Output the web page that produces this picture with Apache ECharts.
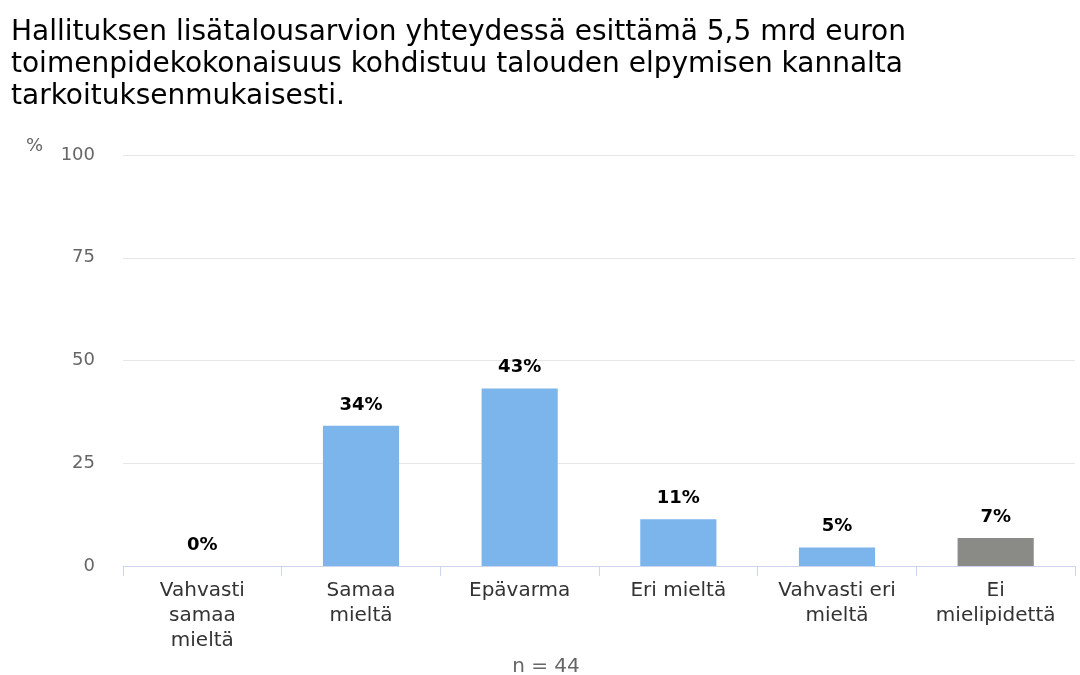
<!DOCTYPE html>
<html><head><meta charset="utf-8">
<script src="https://cdn.jsdelivr.net/npm/echarts@6/dist/echarts.min.js"></script>
<style>html,body{margin:0;padding:0;background:#fff}#main{width:1080px;height:675px}</style>
</head><body><div id="main"></div>
<script>
var categories = ['Vahvasti\nsamaa\nmieltä', 'Samaa\nmieltä', 'Epävarma', 'Eri mieltä', 'Vahvasti eri\nmieltä', 'Ei\nmielipidettä'];
var values = [0, 34.1, 43.2, 11.4, 4.5, 6.8];
var colors = ['#7cb5ec', '#7cb5ec', '#7cb5ec', '#7cb5ec', '#7cb5ec', '#8a8a86'];
var font = 'DejaVu Sans';
var chart = echarts.init(document.getElementById('main'));
chart.setOption({
  backgroundColor: '#fff',
  animation: false,
  textStyle: { fontFamily: font },
  title: [{
    text: 'Hallituksen lisätalousarvion yhteydessä esittämä 5,5 mrd euron\ntoimenpidekokonaisuus kohdistuu talouden elpymisen kannalta\ntarkoituksenmukaisesti.',
    left: 6, top: 12,
    textStyle: { fontFamily: font, fontSize: 28, fontWeight: 'normal', color: '#000', lineHeight: 32 }
  }, {
    text: 'n = 44', left: 541, top: 652, textAlign: 'center',
    textStyle: { fontFamily: font, fontSize: 20, fontWeight: 'normal', color: '#666' }
  }],
  grid: { left: 123, right: 5, top: 155, bottom: 109 },
  xAxis: {
    type: 'category', data: categories,
    axisLine: { lineStyle: { color: '#ccd6eb' } },
    axisTick: { show: true, lineStyle: { color: '#ccd6eb' }, length: 10 },
    axisLabel: { color: '#333', fontSize: 20, lineHeight: 25, margin: 12, fontFamily: font }
  },
  yAxis: {
    type: 'value', min: 0, max: 100, interval: 25,
    name: '%', nameLocation: 'end', nameGap: 0,
    nameTextStyle: { color: '#666', fontSize: 18, align: 'right', padding: [0, 80, 0, 0], verticalAlign: 'bottom', fontFamily: font },
    axisLabel: { color: '#666', fontSize: 18, margin: 28, fontFamily: font },
    splitLine: { lineStyle: { color: '#e6e6e6' } },
    axisLine: { show: false }, axisTick: { show: false }
  },
  series: [{
    type: 'bar', barWidth: '48%',
    data: values.map(function (v, i) { return { value: v, itemStyle: { color: colors[i] } }; }),
    label: {
      show: true, position: 'top', distance: 12,
      color: '#000', fontWeight: 'bold', fontSize: 18, fontFamily: font,
      formatter: function (p) { return Math.round(p.value) + '%'; }
    }
  }]
});
</script></body></html>
